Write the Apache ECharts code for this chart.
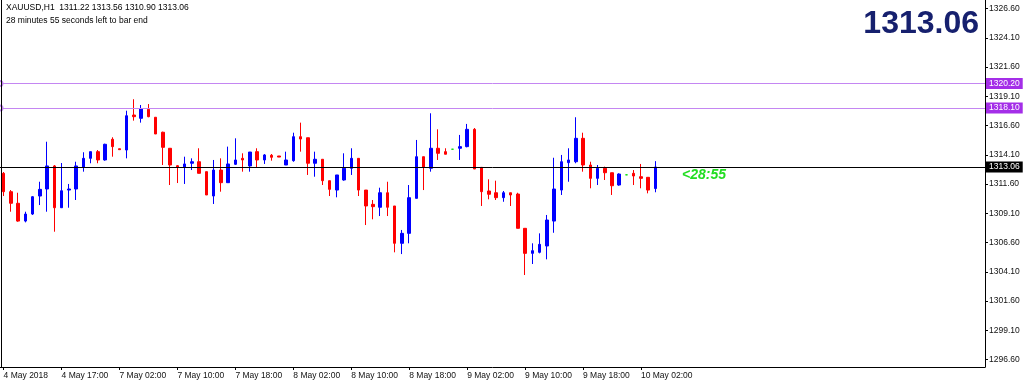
<!DOCTYPE html>
<html><head><meta charset="utf-8">
<script src="https://cdn.jsdelivr.net/npm/echarts@6/dist/echarts.min.js"></script>
<style>html,body{margin:0;padding:0;background:#fff}#c{width:1024px;height:386px}</style>
</head><body><div id="c"></div>
<script>
// trading sessions (day, first hour, last hour) -> one H1 bar per hour
const sessions = [['4 May', 9, 23], ['7 May', 1, 23], ['8 May', 0, 23], ['9 May', 0, 23], ['10 May', 0, 4]];
const emptySlots = 45; // chart shift on the right

const opens  = [1312.52,1310.95,1309.96,1308.44,1309.04,1310.58,1311.18,1313.15,1309.58,1311.09,
                1311.18,1313.03,1313.80,1314.37,1313.66,1315.43,1314.62,1314.51,1317.50,1317.22,
                1317.99,1317.31,1316.03,1314.66,1313.17,1313.03,1313.38,1313.51,1312.66,1310.58,
                1312.80,1311.72,1313.29,1313.80,1313.15,1314.37,1313.66,1314.06,1314.00,1313.23,
                1313.60,1315.65,1315.56,1313.38,1313.72,1311.89,1311.09,1311.95,1312.95,1313.80,
                1311.09,1309.87,1309.62,1310.86,1309.73,1306.54,1307.39,1310.38,1313.94,1312.95,
                1314.66,1314.37,1314.58,1314.66,1314.80,1316.28,1313.03,1311.01,1310.86,1310.44,
                1310.86,1310.75,1307.82,1305.68,1305.77,1306.31,1308.44,1311.09,1313.43,1313.51,
                1315.51,1313.23,1312.09,1312.95,1312.57,1311.52,1312.39,1312.52,1312.23,1312.18,
                1311.22];
const highs  = [1312.63,1311.09,1310.86,1309.24,1310.58,1311.80,1315.22,1313.23,1313.40,1311.61,
                1313.51,1314.32,1314.37,1314.51,1315.05,1315.60,1314.62,1317.87,1318.85,1318.36,
                1318.44,1317.31,1316.08,1314.66,1313.23,1313.94,1313.80,1314.66,1312.66,1313.66,
                1313.80,1314.80,1315.51,1314.23,1314.34,1314.66,1314.17,1314.17,1314.00,1314.37,
                1315.99,1316.85,1315.56,1314.37,1313.72,1311.89,1312.38,1314.23,1314.66,1313.80,
                1311.09,1310.24,1311.29,1311.80,1309.73,1307.68,1311.52,1315.37,1313.94,1317.65,
                1316.28,1314.66,1314.58,1315.80,1316.74,1316.39,1313.03,1312.01,1311.89,1311.01,
                1310.86,1310.86,1307.82,1306.54,1307.39,1308.96,1313.85,1314.09,1314.66,1317.31,
                1315.99,1313.51,1313.23,1313.09,1312.57,1312.52,1312.39,1312.80,1313.32,1312.18,
                1313.56];
const lows   = [1310.58,1309.24,1308.38,1308.33,1308.96,1309.81,1309.24,1307.53,1309.56,1309.58,
                1310.24,1312.66,1313.38,1313.38,1313.60,1313.94,1314.54,1313.80,1317.02,1316.85,
                1317.31,1315.88,1313.23,1311.52,1311.69,1311.61,1312.80,1312.52,1310.67,1309.90,
                1310.95,1311.72,1313.23,1312.66,1312.66,1313.03,1313.32,1313.60,1313.91,1313.23,
                1313.51,1314.37,1312.38,1312.23,1311.52,1310.58,1310.47,1311.89,1312.38,1310.58,
                1308.10,1308.59,1308.87,1308.87,1305.77,1305.62,1306.54,1310.38,1311.09,1312.66,
                1313.66,1314.15,1314.58,1313.66,1314.74,1312.89,1309.73,1310.30,1310.24,1310.09,
                1309.73,1307.82,1303.83,1304.77,1305.68,1305.17,1307.44,1310.67,1311.80,1313.38,
                1312.66,1311.24,1311.52,1311.95,1310.67,1311.46,1312.39,1311.52,1311.24,1310.81,
                1310.90];
const closes = [1310.95,1309.96,1308.44,1309.04,1310.52,1311.15,1313.15,1309.58,1311.03,1311.18,
                1313.15,1313.80,1314.37,1313.66,1315.00,1314.80,1314.54,1317.44,1317.36,1318.02,
                1317.36,1315.88,1314.74,1313.23,1313.03,1313.32,1313.51,1312.52,1310.67,1312.80,
                1311.72,1313.32,1313.66,1313.66,1314.34,1313.66,1314.09,1313.89,1313.91,1313.66,
                1315.65,1315.45,1313.38,1313.72,1311.89,1311.15,1312.38,1312.95,1313.80,1311.09,
                1309.73,1309.67,1310.86,1309.62,1306.54,1307.39,1310.44,1313.94,1313.03,1314.66,
                1314.23,1314.15,1314.58,1314.80,1316.28,1312.89,1310.95,1310.73,1310.44,1310.86,
                1310.67,1307.82,1305.68,1305.91,1306.45,1308.53,1311.18,1313.51,1313.66,1315.51,
                1313.23,1312.09,1312.95,1312.57,1311.46,1312.46,1312.39,1312.29,1312.09,1311.09,
                1313.06];

const xTickBars   = ['4 May 09:00','4 May 17:00','7 May 02:00','7 May 10:00','7 May 18:00','8 May 02:00',
                     '8 May 10:00','8 May 18:00','9 May 02:00','9 May 10:00','9 May 18:00','10 May 02:00'];
const xTickLabels = ['4 May 2018','4 May 17:00','7 May 02:00','7 May 10:00','7 May 18:00','8 May 02:00',
                     '8 May 10:00','8 May 18:00','9 May 02:00','9 May 10:00','9 May 18:00','10 May 02:00'];
const yTickValues = [1296.60,1299.10,1301.60,1304.10,1306.60,1309.10,1311.60,1314.10,1316.60,1319.10,1321.60,1324.10,1326.60];
const levelLines  = [1320.20, 1318.10];
const lastPrice   = 1313.06;
const headerLine1 = 'XAUUSD,H1  1311.22 1313.56 1310.90 1313.06';
const headerLine2 = '28 minutes 55 seconds left to bar end';
const countdown   = '<28:55';

const pad = h => (h < 10 ? '0' : '') + h + ':00';
const categories = [];
sessions.forEach(([d, h0, h1]) => { for (let h = h0; h <= h1; h++) categories.push(d + ' ' + pad(h)); });
for (let i = 0; i < emptySlots; i++) categories.push('_' + i);
const tickMap = {};
xTickBars.forEach((b, i) => { tickMap[b] = xTickLabels[i]; });
const candles = opens.map((o, i) => [o, closes[i], lows[i], highs[i]]);

const font = 'Liberation Sans, Arial, sans-serif';
const chart = echarts.init(document.getElementById('c'), null, {renderer: 'canvas'});
chart.setOption({
  animation: false,
  backgroundColor: '#ffffff',
  grid: {left: 0, top: 0, width: 985, height: 367, containLabel: false},
  xAxis: {
    type: 'category', data: categories, boundaryGap: true,
    axisLine: {show: true, lineStyle: {color: '#000', width: 1}},
    axisTick: {show: true, alignWithLabel: true, length: 3, lineStyle: {color: '#000'},
               interval: (i, v) => tickMap[v] !== undefined},
    axisLabel: {show: true, interval: (i, v) => tickMap[v] !== undefined,
                formatter: v => tickMap[v] || '', align: 'left', margin: 4,
                fontSize: 8.5, color: '#111', fontFamily: font, padding: [0, 0, 0, 0]},
    splitLine: {show: false}
  },
  yAxis: {
    type: 'value', position: 'right', min: 1295.97, max: 1327.33, scale: true,
    axisLine: {show: true, onZero: false, lineStyle: {color: '#000', width: 1}},
    axisTick: {show: true, length: 3, customValues: yTickValues, lineStyle: {color: '#000'}},
    axisLabel: {show: true, customValues: yTickValues, formatter: v => v.toFixed(2),
                fontSize: 8.5, color: '#111', fontFamily: font, margin: 4},
    splitLine: {show: false}
  },
  series: [{
    type: 'candlestick',
    data: candles,
    barWidth: 3,
    itemStyle: {color: '#0000ff', color0: '#ff0000', borderColor: '#0000ff', borderColor0: '#ff0000',
                borderColorDoji: '#00dd00', borderWidth: 1},
    markLine: {
      silent: true, animation: false,
      symbol: ['emptyCircle', 'none'], symbolSize: 5,
      lineStyle: {color: '#c486f2', width: 1, type: 'solid'},
      label: {show: true, position: 'end', distance: 1, color: '#fff', backgroundColor: '#a42ee8',
              fontSize: 8.5, fontFamily: font, padding: [1, 3, 1, 3],
              formatter: p => p.value.toFixed(2)},
      data: levelLines.map(v => ({yAxis: v}))
    }
  }, {
    type: 'line', data: [], showSymbol: false,
    markLine: {
      silent: true, animation: false, symbol: ['none', 'none'],
      lineStyle: {color: '#000', width: 1, type: 'solid'},
      label: {show: true, position: 'end', distance: 1, color: '#fff', backgroundColor: '#000',
              fontSize: 8.5, fontFamily: font, padding: [1, 3, 1, 3],
              formatter: p => p.value.toFixed(2)},
      data: [{yAxis: lastPrice}]
    }
  }],
  graphic: [
    {type: 'line', shape: {x1: 1.5, y1: 0, x2: 1.5, y2: 367}, style: {stroke: '#000', lineWidth: 1}, z: 10},
    {type: 'text', left: 6, top: 3, style: {text: headerLine1, fill: '#000', font: '8.5px ' + font}},
    {type: 'text', left: 6, top: 16, style: {text: headerLine2, fill: '#000', font: '8.5px ' + font}},
    {type: 'text', right: 45, top: 8, style: {text: lastPrice.toFixed(2), fill: '#16206e', font: 'bold 32px ' + font}},
    {type: 'text', left: 682, top: 168, style: {text: countdown, fill: '#22dd22', font: 'italic bold 14px ' + font}}
  ]
});
</script></body></html>
